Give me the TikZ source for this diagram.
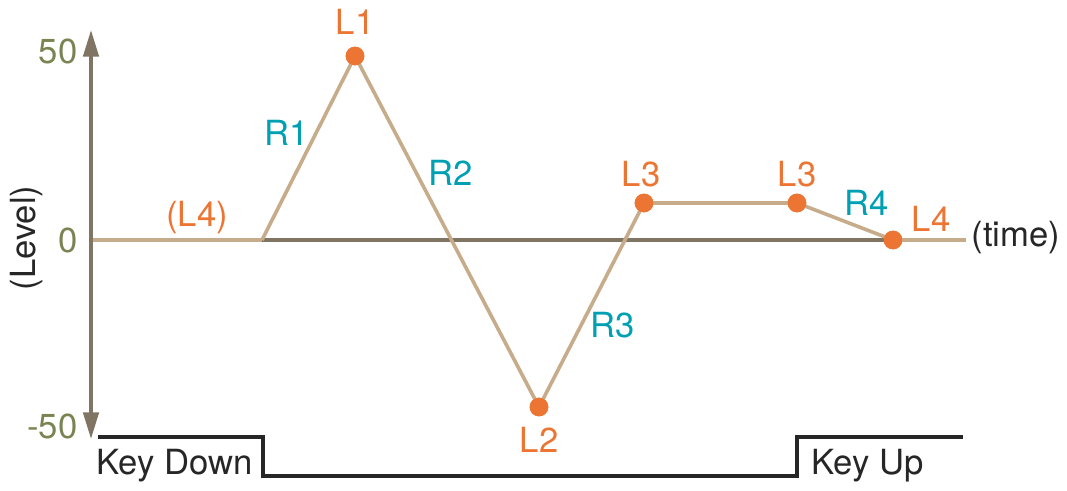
\documentclass[tikz,border=0pt]{standalone}
\usepackage{fontspec}
\setmainfont{TeX Gyre Heros}
\usetikzlibrary{arrows.meta}
\definecolor{axisgray}{RGB}{128,116,98}
\definecolor{envtan}{RGB}{198,172,138}
\definecolor{dotorange}{RGB}{237,117,52}
\definecolor{rateteal}{RGB}{0,160,178}
\definecolor{valolive}{RGB}{122,132,82}
\tikzset{every picture/.style={line width=0.75pt}}
\tikzset{
  lvl/.style={circle,fill=dotorange,inner sep=0pt,minimum size=14pt},
  lbl/.style={inner sep=0.75pt,font=\fontsize{26}{30}\selectfont},
  lvltxt/.style={lbl,text=dotorange},
  ratetxt/.style={lbl,text=rateteal},
  envline/.style={draw=envtan,line width=2.7pt},
}

\begin{document}
\begin{tikzpicture}[x=0.75pt,y=0.75pt,yscale=-1,xscale=1]
\useasboundingbox (0,0) rectangle (1067,491);

%Points of the envelope
\coordinate (start) at (262,240);
\coordinate (axl) at (91,240);
\coordinate (axr) at (966,240);
\node [lvl] (l1) at (355,56) {};
\node [lvl] (l2) at (539,407) {};
\node [lvl] (l3a) at (644,203) {};
\node [lvl] (l3b) at (797,203) {};
\node [lvl] (l4) at (893,240) {};

%Straight Lines: time axis
\draw [envline] (axl) -- (start) ;
\draw [draw=axisgray,line width=2.7pt] (start) -- (l4.center) ;
\draw [envline] (l4.center) -- (axr) ;

%Straight Lines: level axis
\coordinate (ytop) at (91,30);
\coordinate (ybot) at (91,439);
\draw [draw=axisgray,line width=2.7pt,{Triangle[width=11.5pt,length=20pt]}-{Triangle[width=11.5pt,length=20pt]}] (ybot) -- (ytop) ;

%Straight Lines: envelope
\draw [envline,line join=round] (start) -- (l1.center) -- (l2.center) -- (l3a.center) -- (l3b.center) -- (l4.center) ;
\foreach \p in {l1,l2,l3a,l3b,l4} \node [lvl] at (\p) {};

%Straight Lines: key
\coordinate (k0) at (98,437);
\coordinate (k1) at (263,437);
\coordinate (k2) at (263,476);
\coordinate (k3) at (797,476);
\coordinate (k4) at (797,437);
\coordinate (k5) at (963,437);
\draw [line width=2.4pt,color=black!85] (k0) -- (k1) -- (k2) -- (k3) -- (k4) -- (k5) ;

% Text Node
\node [lvltxt] (t1) at (355,22) {L1};
% Text Node
\node [lvltxt] (t2) at (539,440) {L2};
% Text Node
\node [lvltxt] (t3a) at (641,174) {L3};
% Text Node
\node [lvltxt] (t3b) at (797,174) {L3};
% Text Node
\node [lvltxt] (t4) at (931,219) {L4};
% Text Node
\node [lvltxt] (t0) at (197,218) {(L4)};
% Text Node
\node [ratetxt] (r1) at (287,133) {R1};
% Text Node
\node [ratetxt] (r2) at (451,173) {R2};
% Text Node
\node [ratetxt] (r3) at (613,325) {R3};
% Text Node
\node [ratetxt] (r4) at (867,203) {R4};
% Text Node
\node [lbl,text=valolive,anchor=east] (v50) at (79,51) {50};
% Text Node
\node [lbl,text=valolive,anchor=east] (v0) at (79,240) {0};
% Text Node
\node [lbl,text=valolive,anchor=east] (vm50) at (79,426) {-50};
% Text Node
\node [lbl,rotate=90,text=black!85] (ylab) at (27,238) {(Level)};
% Text Node
\node [lbl,anchor=west,text=black!85] (xlab) at (970,238) {(time)};
% Text Node
\node [lbl,anchor=west,text=black!85] (kd) at (95,466) {Key Down};
% Text Node
\node [lbl,anchor=west,text=black!85] (ku) at (810,466) {Key Up};

\end{tikzpicture}
\end{document}
